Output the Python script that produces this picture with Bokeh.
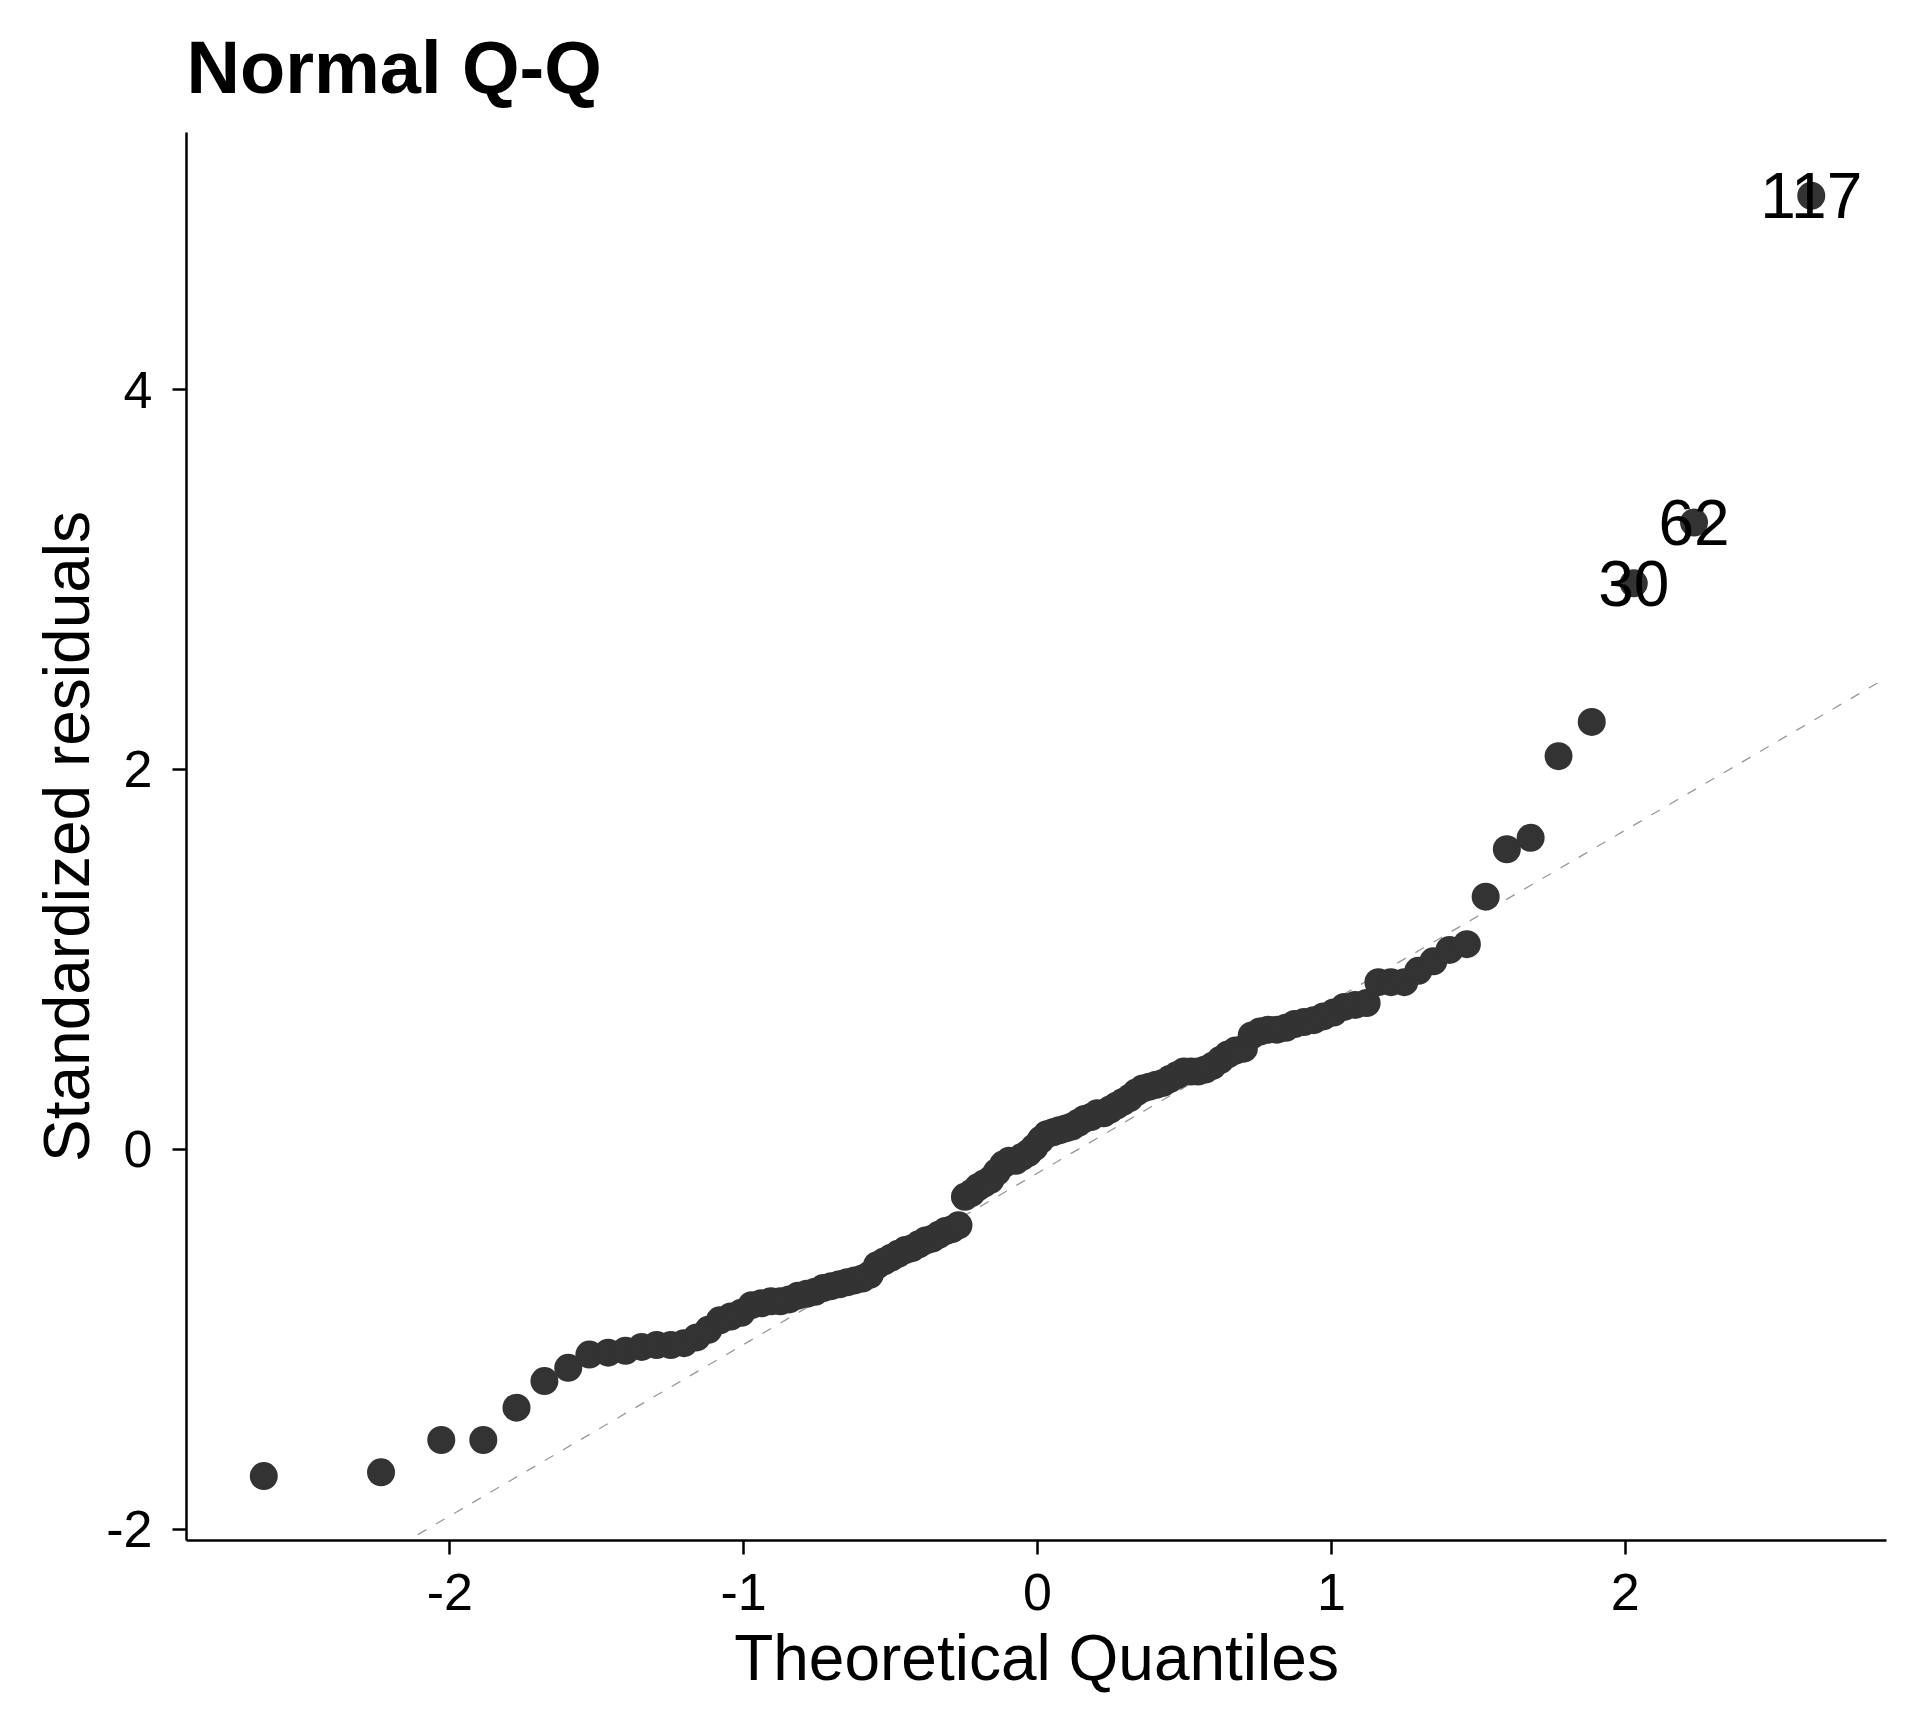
from bokeh.plotting import figure
from bokeh.models import Range1d, FixedTicker, ColumnDataSource
from bokeh.embed import file_html
from bokeh.resources import INLINE
from bokeh.core.properties import value

# Theoretical normal quantiles (x)
theoretical = [
    -2.633, -2.234, -2.029, -1.886, -1.773, -1.678, -1.597, -1.525, -1.461, -1.402,
    -1.347, -1.296, -1.248, -1.203, -1.160, -1.120, -1.081, -1.044, -1.008, -0.973,
    -0.940, -0.907, -0.875, -0.845, -0.815, -0.785, -0.757, -0.729, -0.702, -0.674,
    -0.648, -0.622, -0.596, -0.571, -0.546, -0.522, -0.498, -0.474, -0.450, -0.427,
    -0.404, -0.381, -0.358, -0.336, -0.313, -0.291, -0.269, -0.247, -0.225, -0.203,
    -0.182, -0.160, -0.139, -0.117, -0.096, -0.074, -0.053, -0.032, -0.011,
    0.011, 0.032, 0.053, 0.074, 0.096, 0.117, 0.139, 0.160, 0.182, 0.203,
    0.225, 0.247, 0.269, 0.291, 0.313, 0.336, 0.358, 0.381, 0.404, 0.427,
    0.450, 0.474, 0.498, 0.522, 0.546, 0.571, 0.596, 0.622, 0.648, 0.674,
    0.702, 0.729, 0.757, 0.785, 0.815, 0.845, 0.875, 0.907, 0.940, 0.973,
    1.008, 1.044, 1.081, 1.120, 1.160, 1.203, 1.248, 1.296, 1.347, 1.402,
    1.461, 1.525, 1.597, 1.678, 1.773, 1.886, 2.029, 2.234, 2.633,
]

# Standardized residuals (y), sorted
residuals = [
    -1.72, -1.70, -1.53, -1.53, -1.36, -1.22, -1.15, -1.08, -1.07, -1.06,
    -1.04, -1.03, -1.03, -1.02, -0.99, -0.95, -0.90, -0.88, -0.86, -0.82,
    -0.81, -0.80, -0.80, -0.79, -0.77, -0.76, -0.75, -0.73, -0.72, -0.71,
    -0.70, -0.69, -0.68, -0.66, -0.61, -0.59, -0.57, -0.55, -0.53, -0.52,
    -0.50, -0.48, -0.47, -0.45, -0.43, -0.42, -0.40, -0.25, -0.23, -0.20,
    -0.18, -0.16, -0.12, -0.08, -0.06, -0.06, -0.04, -0.02, 0.01,
    0.05, 0.08, 0.09, 0.10, 0.11, 0.12, 0.14, 0.16, 0.17, 0.19,
    0.19, 0.21, 0.23, 0.25, 0.27, 0.30, 0.32, 0.33, 0.34, 0.35,
    0.37, 0.39, 0.41, 0.41, 0.41, 0.42, 0.44, 0.47, 0.50, 0.52,
    0.53, 0.60, 0.62, 0.63, 0.63, 0.64, 0.66, 0.67, 0.68, 0.70,
    0.72, 0.75, 0.76, 0.77, 0.88, 0.88, 0.88, 0.94, 0.99, 1.05,
    1.08, 1.33, 1.58, 1.64, 2.07, 2.25, 2.98, 3.30, 5.02,
]

# Labelled outliers
label_x = [2.029, 2.234, 2.633]
label_y = [2.98, 3.30, 5.02]
label_text = ["30", "62", "117"]

# Reference (dashed) line end points
line_x = [-2.109, 2.875]
line_y = [-2.028, 2.470]

x_ticks = [-2, -1, 0, 1, 2]
y_ticks = [-2, 0, 2, 4]

FONT = "Liberation Sans"

p = figure(
    width=1904, height=1712,
    output_backend="svg", toolbar_location=None,
    x_range=Range1d(-2.896, 2.889), y_range=Range1d(-2.059, 5.353),
    min_border_left=186, min_border_right=18,
    min_border_top=131, min_border_bottom=172,
)
p.background_fill_color = "white"
p.border_fill_color = "white"
p.outline_line_color = None
p.xgrid.grid_line_color = None
p.ygrid.grid_line_color = None

p.title.text = "Normal Q-Q"
p.title.text_font = FONT
p.title.text_font_style = "bold"
p.title.text_font_size = "74px"
p.title.text_color = "black"
p.title.align = "left"
p.title.standoff = 47

for ax in (p.xaxis[0], p.yaxis[0]):
    ax.axis_line_color = "black"
    ax.axis_line_width = 2.5
    ax.major_tick_line_color = "black"
    ax.major_tick_line_width = 2.5
    ax.major_tick_out = 14
    ax.major_tick_in = 0
    ax.minor_tick_line_color = None
    ax.major_label_text_font = FONT
    ax.major_label_text_font_size = "52px"
    ax.major_label_text_color = "black"
    ax.axis_label_text_font = FONT
    ax.axis_label_text_font_size = "64px"
    ax.axis_label_text_font_style = "normal"
    ax.axis_label_text_color = "black"

p.xaxis[0].ticker = FixedTicker(ticks=x_ticks)
p.yaxis[0].ticker = FixedTicker(ticks=y_ticks)
p.xaxis[0].major_label_overrides = {t: str(t) for t in x_ticks}
p.yaxis[0].major_label_overrides = {t: str(t) for t in y_ticks}
p.xaxis[0].axis_label = "Theoretical Quantiles"
p.yaxis[0].axis_label = "Standardized residuals"
p.xaxis[0].major_label_standoff = 19
p.yaxis[0].major_label_standoff = 20
p.xaxis[0].axis_label_standoff = 9
p.yaxis[0].axis_label_standoff = 0

p.line(line_x, line_y, line_color="#999999", line_width=1.3, line_dash="10 11")

src = ColumnDataSource(data=dict(x=theoretical, y=residuals))
p.scatter("x", "y", source=src, size=28, fill_color="#333333", line_color="#333333",
          line_width=0)

lsrc = ColumnDataSource(data=dict(x=label_x, y=label_y, t=label_text))
p.text("x", "y", text="t", source=lsrc, text_font=value(FONT), text_font_size="64px",
       text_color="black", text_align="center", text_baseline="middle")

open("out.html", "w").write(file_html(p, INLINE))
